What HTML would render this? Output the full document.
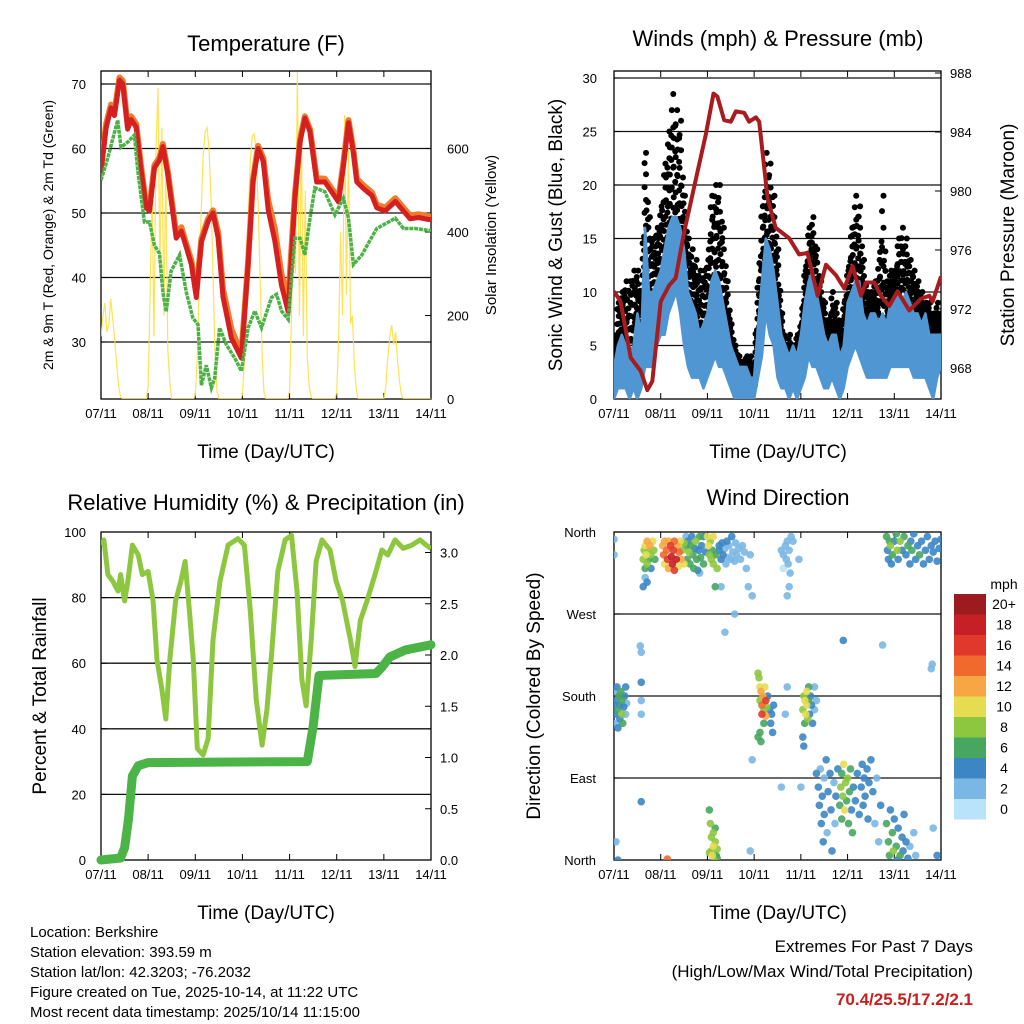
<!DOCTYPE html>
<html><head><meta charset="utf-8"><style>
body{margin:0;background:#fff}
svg{display:block;font-family:"Liberation Sans",sans-serif}
</style></head><body>
<svg id="s" width="1024" height="1024" viewBox="0 0 1024 1024">
<defs>
<clipPath id="c1"><rect x="101" y="71" width="330" height="328"/></clipPath>
<clipPath id="c2"><rect x="614" y="71" width="327" height="328"/></clipPath>
<clipPath id="c3"><rect x="101" y="532" width="330" height="328"/></clipPath>
<clipPath id="c4"><rect x="614" y="532" width="327" height="328"/></clipPath>
</defs>
<g id="g1"></g>
<g id="g2"></g>
<g id="g3"></g>
<g id="g4"></g>
<text x="266" y="51" font-size="22" text-anchor="middle">Temperature (F)</text>
<text x="778" y="46" font-size="22" text-anchor="middle">Winds (mph) &amp; Pressure (mb)</text>
<text x="266" y="510" font-size="22" text-anchor="middle">Relative Humidity (%) &amp; Precipitation (in)</text>
<text x="778" y="505" font-size="22" text-anchor="middle">Wind Direction</text>
<text x="266" y="458" font-size="19" text-anchor="middle">Time (Day/UTC)</text>
<text x="778" y="458" font-size="19" text-anchor="middle">Time (Day/UTC)</text>
<text x="266" y="919" font-size="19" text-anchor="middle">Time (Day/UTC)</text>
<text x="778" y="919" font-size="19" text-anchor="middle">Time (Day/UTC)</text>
<text transform="translate(53,235) rotate(-90)" font-size="14" text-anchor="middle">2m &amp; 9m T (Red, Orange) &amp; 2m Td (Green)</text>
<text transform="translate(496,235) rotate(-90)" font-size="15" text-anchor="middle">Solar Insolation (Yellow)</text>
<text transform="translate(562,235) rotate(-90)" font-size="19" text-anchor="middle">Sonic Wind &amp; Gust (Blue, Black)</text>
<text transform="translate(1014,235) rotate(-90)" font-size="19" text-anchor="middle">Station Pressure (Maroon)</text>
<text transform="translate(46,696) rotate(-90)" font-size="19" text-anchor="middle">Percent &amp; Total Rainfall</text>
<text transform="translate(540,696) rotate(-90)" font-size="19" text-anchor="middle">Direction (Colored By Speed)</text>
<g font-size="15">
<text x="30" y="937">Location: Berkshire</text>
<text x="30" y="957">Station elevation: 393.59 m</text>
<text x="30" y="977">Station lat/lon: 42.3203; -76.2032</text>
<text x="30" y="997">Figure created on Tue, 2025-10-14, at 11:22 UTC</text>
<text x="30" y="1017">Most recent data timestamp: 2025/10/14 11:15:00</text>
</g>
<g font-size="17" text-anchor="end">
<text x="973" y="952">Extremes For Past 7 Days</text>
<text x="973" y="977">(High/Low/Max Wind/Total Precipitation)</text>
<text x="973" y="1005" fill="#c81e1e" font-weight="bold">70.4/25.5/17.2/2.1</text>
</g>
</svg>
<script>
// ---------- data ----------
const days=["07/11","08/11","09/11","10/11","11/11","12/11","13/11","14/11"];
const tHours=[0,2.6,5.1,6.8,9.4,11.1,13.6,15.3,17.9,20.4,23,24.7,27.2,29.8,31.5,34,38.3,40.9,43.4,46,48.5,51.1,54.5,57,59.6,62.1,66.4,71.5,74.9,77.4,80,82.6,85.1,88.5,91.9,95.3,98.7,101.3,103.8,106.4,109.8,114,117.4,120.9,123.4,126,128.5,130.2,133.6,137.9,140.4,144.7,149.8,154,157.4,161.7,166.8,168];
const tRed=[56.4,63.2,66.3,65.1,70.6,70,63,64.5,63.3,56.7,50.8,50.3,57,58.2,60.3,56,46.1,47.2,44.7,42,36.9,45.5,48.7,50,46.2,37,30.6,27.5,42,54.8,60,58,50.5,45.7,38.8,34.7,52.3,61,64.7,62.6,54.8,54.8,53.3,51.7,57.3,64,59.3,54.8,53.8,52.7,50.8,50.3,51.8,50.3,49.1,49.3,49,49];
const tOrange=[57,63.8,66.8,65.6,71,70.5,63.5,65,63.8,57.2,51.2,50.8,57.4,58.6,60.7,56.5,46.8,47.8,45.2,42.6,37.5,46,49.1,50.4,47,38.2,32,28.2,42.4,55.2,60.4,58.5,52,47.5,40.5,36.5,52.8,61.4,65,63,55.4,55.3,53.8,52.2,57.8,64.4,59.8,55.3,54.3,53.2,51.3,50.8,52.3,50.8,49.6,49.8,49.5,49.5];
const dHours=[0,3.4,8.5,10.2,13.6,17,18.7,22.1,24.7,27.2,29.8,31.5,33.2,35.7,40,43.4,46.8,49.4,51.1,53.6,56.2,57.9,60.4,63.8,68.1,71.5,74.9,78.3,81.7,86.8,89.4,91.9,95.3,98.7,101.3,103.8,106.4,108.9,114,119.1,123.4,126,128.5,132.8,137,140.4,146.4,149.8,154,159.9,166.8,168];
const tDew=[55.1,58.5,64.4,60.2,61,62.1,56.7,48.6,48.6,45,43.7,37.7,34.7,41,43.5,37.7,33.7,32.7,23.3,26.4,22.9,24.4,32.2,29.6,27.5,25.5,32.2,34.8,32.2,36.9,37.4,34.8,33.5,46.1,46.1,43.5,49.2,53.9,53.3,49.7,52.3,49.2,42,43.5,45.8,47.6,48.6,49.2,47.6,47.6,47.3,47.3];
const solar=[150,200,230,160,180,240,190,140,80,30,5,0,0,0,0,0,0,0,0,0,0,0,0,0,
30,250,500,150,600,745,300,650,200,550,120,40,0,0,0,0,0,0,0,0,0,0,0,0,
10,100,280,450,580,640,650,600,480,300,120,20,0,0,0,0,0,0,0,0,0,0,0,0,
10,90,260,430,570,630,635,590,470,290,110,15,0,0,0,0,0,0,0,0,0,0,0,0,
20,200,450,300,783,200,650,150,500,100,30,5,0,0,0,0,0,0,0,0,0,0,0,0,
15,150,400,200,680,250,600,180,200,80,20,0,0,0,0,0,0,0,0,0,0,0,0,0,
0,30,100,150,177,130,160,90,40,10,0,0,0,0,0,0,0,0,0,0,0,0,0,0,0];
const windLo=[0,1,1,1,0,1,0,1,3,3,3,5,6,6,8,9,10,8,5,3,2,2,2,1,2,3,4,3,3,2,1,0,0,0,0,0,0,2,4,8,6,5,2,1,1,0,1,0,1,2,4,3,3,2,1,1,2,1,0,1,3,4,5,4,3,2,2,2,2,2,2,3,3,3,3,3,3,2,2,2,2,1,0,2,3];
const windHi=[3,5,6,5,4,5,8,6,16,10,10,11,12,14,16,17,17,16,14,10,9,8,6,7,8,11,12,11,9,7,5,4,3,3,3,2,2,7,11,15,14,12,9,6,5,4,5,4,6,9,11,12,10,8,6,5,6,6,4,5,9,10,11,11,8,7,8,8,7,8,7,9,9,10,9,10,9,8,8,7,8,6,6,6,6];
const gustHi=[4,9,10,11,11,12,12,10,23,17,15,16,18,22,25,28.5,27,26,19,15,14,13,12,12,13,19,20,20,16,11,7,5,4,3.5,4,4,3,11,18,23,22,19,14,8,5,6,5,6,7,12,16,17,14,11,9,7,10,9,7,9,12,16,19,18,13,10,10,11,13,19,11,12,12,15,16,15,13,12,11,10,9,9,8,9,8];
const pHours=[0,3.4,8.6,13.7,17.1,19.7,24,28.3,31.7,36,42.9,47.1,51.1,53.1,56.6,60,62.6,66.9,69.4,72.9,74.6,78.9,83.1,90,95.1,99.4,104.6,108.9,114,118.3,122.6,126.9,129.4,133.7,137.1,141.4,145.7,151.7,157.7,162,163.7,168];
const pressure=[973.2,972.5,968.7,967.8,966.5,967.1,972.5,973.6,974.1,977.2,981.3,983.8,986.6,986.4,984.8,984.7,985.4,985.3,984.7,985,984.7,979.5,977.5,976.8,975.7,975.8,972.9,975,974.3,973.4,974.9,972.9,973.8,973.8,972.9,972.2,973.2,971.9,972.7,972.9,972.5,974.2];
const rhHours=[0,1.5,3.5,6,8.7,10,12,13.7,16,19,21,24,26.5,28.5,31,33,35,38,40.7,42.8,45,47,49,52,54.5,57,60.6,64.7,69.7,73,76,79,82,84.5,87,90,93.7,97,99.8,102.3,104.4,107,109.5,112.5,116.6,119.7,123,127,129.3,132,135.4,139.5,143,146,149.7,153.8,158.3,162.4,165.5,168];
const rh=[96,97.6,87,85,82,87,79,85,96,93,87,88,79,61,52,43,61,79,85,91,76,61,34,32,37,67,85,96,98,96,76,49,35,46,64,88,97.6,99,82,55,47,67,91,97.6,94.5,85,79,67,59,73,79,87,94.5,93,97.6,95,96,97.6,96,95];
const prHours=[0,10,12,14,16,19,24,105,108,111,140,143,147,155,168];
const precip=[0,0.02,0.12,0.4,0.82,0.92,0.95,0.96,1.3,1.8,1.82,1.88,1.98,2.05,2.1];
const wdHour=[0,0.3,0.5,1,1,1.5,2,2,2.5,3,3,3.5,4,4,4.5,5,5.5,6,6,6.5,0,0,1,2,13.5,14,14,14,14,14,
15,15.5,16,16,16.5,17,17,17.5,18,18.5,19,19,20,20.5,21,15,16,17,
25,25.5,26,26,27,27.5,28,28,29,29.5,30,30.5,31,31,32,32.5,33,33.5,34,34.5,35,36,36,
37,37.5,38,38.5,39,39.5,40,40.5,41,41.5,42,42.5,43,43.5,44,44.5,45,46,46,47,
48,48.5,49,49.5,50,50.5,51,51,52,52,53,54,49,49.5,50,50,50.5,51,51,51.5,52,52.5,53,53,49,52,
54,55,55.5,56,57,57.5,58,58.5,59,60,60.5,61,62,62.5,63,64,65,66,67,68,69,70,71,70,71,
74,74.5,75,75,75.5,76,76,76.5,77,77,77.5,78,78,78.5,79,80,80.5,81,81.5,82,75,75.5,74,
86,87,88,88.5,89,89.5,90,90.5,91,90,89,87,89,88,86,96,95,92,
97,97.5,98,98,98.5,99,99,99.5,100,100,100.5,101,101.5,102,103,103,104,97,97.5,
104,105,105.5,106,106.5,107,107.5,108,108,109,109.5,110,111,111.5,112,113,113.5,114,115,116,116.5,117,117,117.5,118,118.5,119,119.5,120,120.5,121,121.5,122,122.5,123,124,125,126,127,127.5,128,128.5,129,130,130.5,131,132,133,134,135,136,137,
140,141,141.5,142,143,143.5,144,145,145.5,146,147,148,148.5,149,150,151,152,154,155,164,166,
140,140.5,141,141.5,142,142.5,143,144,145,145.5,146,147,148,149,150,151,152,152.5,153,154,155,156,157,158,159,160,161,162,163,164,165,166,167,168,
57,62,117.8,138,163,163.5,37,44,55,27.4];
const wdDir=[170,185,160,175,150,190,165,145,180,170,155,185,175,160,150,168,180,160,190,172,352,335,20,0,235,228,195,175,160,64,
330,340,320,345,335,325,350,340,330,345,335,320,350,340,330,300,310,305,
345,335,350,325,340,330,350,320,345,333,325,340,350,318,330,345,322,338,350,330,340,325,348,
345,330,350,338,325,345,355,335,320,342,350,330,318,340,355,332,345,325,355,338,
355,345,335,350,330,340,325,355,335,300,320,345,55,40,25,10,5,30,15,0,20,5,12,2,8,35,
340,330,348,335,342,325,350,332,345,330,355,338,328,348,335,342,330,345,338,320,300,335,290,10,110,
205,200,190,175,185,170,160,180,165,150,190,175,158,168,180,165,150,160,140,170,140,130,135,
340,335,345,330,350,325,340,315,355,300,290,320,190,160,80,80,330,350,
165,180,150,175,160,185,170,155,175,190,160,180,170,150,165,190,175,135,125,
95,80,60,100,40,70,20,90,50,110,30,75,95,55,10,85,40,70,100,60,80,95,45,70,105,55,85,65,90,40,75,100,55,30,80,65,95,50,80,105,60,90,70,100,45,85,110,75,40,90,20,60,
40,20,5,55,30,10,45,15,0,35,5,25,10,50,20,2,15,30,5,35,5,
355,340,330,350,345,325,335,350,358,340,330,350,340,355,335,345,325,350,340,358,330,345,335,350,325,340,355,330,345,338,350,328,342,352,
250,270,241,236,210,215,355,315,300,1];
const wdSpd=[3,2,4,3,2,4,5,3,6,4,3,5,6,7,5,4,3,2,3,2,1,1,1,3,2,2,3,2,2,4,
7,8,5,10,9,7,12,8,6,11,8,4,10,7,6,3,2,4,
12,14,12,10,14,16,12,12,16,18,18,16,14,16,18,12,10,14,10,12,8,9,7,
5,6,4,7,5,6,4,6,5,4,7,5,4,4,5,6,4,5,3,4,
10,9,8,7,7,6,8,9,6,6,7,4,6,8,7,8,9,7,10,7,8,6,7,6,7,6,
4,3,3,3,2,2,3,2,2,2,3,2,2,2,2,2,1,1,2,1,1,1,1,1,1,
8,8,10,7,12,14,16,12,8,6,10,16,12,8,4,4,4,3,4,3,6,6,6,
2,2,2,2,2,1,2,1,1,1,1,0,1,1,1,1,1,1,
8,8,6,10,10,10,10,8,6,6,4,4,4,3,2,2,2,4,4,
4,3,4,2,4,4,3,2,4,3,2,4,4,3,3,2,2,3,3,6,8,6,6,8,9,10,8,6,8,6,6,5,4,6,3,4,4,3,4,4,3,4,3,4,3,3,4,3,2,2,2,4,
6,5,6,4,6,8,4,6,4,4,6,4,3,3,4,3,2,2,2,2,3,
6,4,4,6,8,4,6,4,6,8,4,8,4,6,4,6,4,4,6,4,4,4,6,4,4,4,4,4,4,4,4,4,4,4,
1,1,4,1,1,1,1,1,1,13];
const speedBins=["20+","18","16","14","12","10","8","6","4","2","0"];
const binColors=["#9b1b1e","#c61f26","#e0382b","#ef6a2c","#f6a744","#e6dc52","#8dc63f","#47a65f","#3c86c4","#7ab7e4","#b9e3f8"];

// ---------- helpers ----------
const NS="http://www.w3.org/2000/svg";
function mk(parent,tag,attrs){const e=document.createElementNS(NS,tag);for(const k in attrs)e.setAttribute(k,attrs[k]);parent.appendChild(e);return e;}
function txt(parent,x,y,s,size,anchor){const e=mk(parent,'text',{x:x,y:y,'font-size':size,'text-anchor':anchor});e.textContent=s;return e;}
function pathD(xs,ys,fx,fy){return xs.map((h,i)=>(i?'L':'M')+fx(h).toFixed(1)+' '+fy(ys[i]).toFixed(1)).join('');}
const g1=document.getElementById('g1'),g2=document.getElementById('g2'),g3=document.getElementById('g3'),g4=document.getElementById('g4');

function frame(g,x0,x1,y0,y1,grid,dayLabelY,dayx){
  grid.forEach(y=>{const l=mk(g,'line',{x1:x0,x2:x1,y1:y,y2:y,stroke:'#111','stroke-width':1.3});
  
  });
  const r=mk(g,'rect',{x:x0,y:y0,width:x1-x0,height:y1-y0,fill:'none',stroke:'#000','stroke-width':1.3});
  
  
  days.forEach((d,i)=>{const x=dayx(i*24);
    mk(g,'line',{x1:x,x2:x,y1:y1,y2:y1-6,stroke:'#000'});
    mk(g,'line',{x1:x,x2:x,y1:y0,y2:y0+6,stroke:'#000'});
    const t=txt(g,x,dayLabelY,d,13,'middle');
    
    });
}

// ---------- Panel 1 ----------
const x1s=h=>101+h/168*330, yT=T=>84+(70-T)*6.45, yS=S=>399-S*0.4175;
frame(g1,101,431,71,399,[84,148.5,213,277.5,342],418,x1s);
[30,40,50,60,70].forEach(v=>{const t=txt(g1,86,yT(v)+5,String(v),13,'end');


mk(g1,'line',{x1:101,x2:107,y1:yT(v),y2:yT(v),stroke:'#000'});});
[0,200,400,600].forEach(v=>{const t=txt(g1,447,yS(v)+5,String(v),13,'start');


mk(g1,'line',{x1:425,x2:431,y1:yS(v),y2:yS(v),stroke:'#000'});});
const c1=mk(g1,'g',{'clip-path':'url(#c1)'});
const solH=solar.map((v,i)=>i);
const sp=mk(c1,'path',{d:pathD(solH,solar,x1s,yS),fill:'none',stroke:'#ffdf40','stroke-width':1.2,opacity:0.9});


const op=mk(c1,'path',{d:pathD(tHours,tOrange,x1s,yT),fill:'none',stroke:'#f07b2a','stroke-width':6,'stroke-linejoin':'round'});


const rp=mk(c1,'path',{d:pathD(tHours,tRed,x1s,yT),fill:'none',stroke:'#d42020','stroke-width':5,'stroke-linejoin':'round'});


const gp=mk(c1,'path',{d:pathD(dHours,tDew,x1s,yT),fill:'none',stroke:'#4cb146','stroke-width':3.5,'stroke-dasharray':'4 0.8'});



// ---------- Panel 2 ----------
const x2s=h=>614+h/168*327, yW=v=>399-v*10.7, yP=p=>368-(p-968)*14.75;
frame(g2,614,941,71,399,[78,131.5,185,238.5,292,345.5],418,x2s);
[0,5,10,15,20,25,30].forEach(v=>{const t=txt(g2,597,yW(v)+5,String(v),13,'end');


mk(g2,'line',{x1:614,x2:620,y1:yW(v),y2:yW(v),stroke:'#000'});});
[968,972,976,980,984,988].forEach(v=>{const t=txt(g2,950,yP(v)+5,String(v),13,'start');


mk(g2,'line',{x1:935,x2:941,y1:yP(v),y2:yP(v),stroke:'#000'});});
const c2=mk(g2,'g',{'clip-path':'url(#c2)'});
const wH=windLo.map((v,i)=>i*2);
// gust dot clouds (every hour: data points and midpoints)
const fracs=[0,0.15,0.3,0.45,0.6,0.75,0.88,1];
for(let i=0;i<wH.length;i++){
  const pts=[[wH[i],windHi[i],gustHi[i]]];
  if(i<wH.length-1)pts.push([wH[i]+1,(windHi[i]+windHi[i+1])/2,(gustHi[i]+gustHi[i+1])/2*0.92]);
  pts.forEach(([h,lo,hi])=>{fracs.forEach((f,k)=>{
    const c=mk(c2,'circle',{cx:x2s(h+(k%2?0.45:-0.3)),cy:yW(lo-1+(hi-lo+1)*f),r:3,fill:'#000'});
    
    });});
}
const d2=pathD(wH,windHi,x2s,yW)+[...wH].reverse().map((h,i)=>'L'+x2s(h).toFixed(1)+' '+yW(windLo[windLo.length-1-i]).toFixed(1)).join('')+'Z';
const wa=mk(c2,'path',{d:d2,fill:'#4f96d3',stroke:'#4f96d3','stroke-width':2.5,'stroke-linejoin':'round'});


const pp=mk(c2,'path',{d:pathD(pHours,pressure,x2s,yP),fill:'none',stroke:'#a81b1e','stroke-width':4,'stroke-linejoin':'round'});



// ---------- Panel 3 ----------
const x3s=h=>101+h/168*330, yR=v=>860-v*3.28, yPr=v=>860-v*102.5;
frame(g3,101,431,532,860,[597.6,663.2,728.8,794.4],879,x3s);
[0,20,40,60,80,100].forEach(v=>{const t=txt(g3,86,yR(v)+5,String(v),13,'end');


mk(g3,'line',{x1:101,x2:107,y1:yR(v),y2:yR(v),stroke:'#000'});});
["0.0","0.5","1.0","1.5","2.0","2.5","3.0"].forEach(s=>{const v=parseFloat(s);const t=txt(g3,440,yPr(v)+5,s,13,'start');


mk(g3,'line',{x1:425,x2:431,y1:yPr(v),y2:yPr(v),stroke:'#000'});});
const c3=mk(g3,'g',{'clip-path':'url(#c3)'});
const rl=mk(c3,'path',{d:pathD(rhHours,rh,x3s,yR),fill:'none',stroke:'#8dc740','stroke-width':5,'stroke-linejoin':'round'});


const pl=mk(g3,'path',{d:pathD(prHours,precip,x3s,yPr),fill:'none',stroke:'#4cb447','stroke-width':9,'stroke-linejoin':'round','stroke-linecap':'round'});



// ---------- Panel 4 ----------
const x4s=h=>614+h/168*327, yD=v=>860-v*0.911;
frame(g4,614,941,532,860,[614,696,778],879,x4s);
[["North",0],["East",90],["South",180],["West",270],["North",360]].forEach(([s,v])=>{const t=txt(g4,596,yD(v)+5,s,13,'end');


mk(g4,'line',{x1:614,x2:620,y1:yD(v),y2:yD(v),stroke:'#000'});});
const c4=mk(g4,'g',{'clip-path':'url(#c4)'});
const binOf=s=>Math.min(10,Math.round(s/2));
const order=wdSpd.map((s,i)=>i).sort((a,b)=>wdSpd[a]-wdSpd[b]);
order.forEach(i=>{const c=mk(c4,'circle',{cx:x4s(wdHour[i]),cy:yD(wdDir[i]),r:3.8,fill:binColors[10-binOf(wdSpd[i])],opacity:0.9});

});
// colorbar
const cb=mk(document.getElementById('s'),'g',{});


txt(cb,1004,589,'mph',14,'middle');
speedBins.forEach((s,i)=>{const y=594+i*20.5;
const r=mk(cb,'rect',{x:954,y:y,width:32,height:20.5,fill:binColors[i]});


txt(cb,1004,y+15,s,14,'middle');});
</script>
</body></html>
